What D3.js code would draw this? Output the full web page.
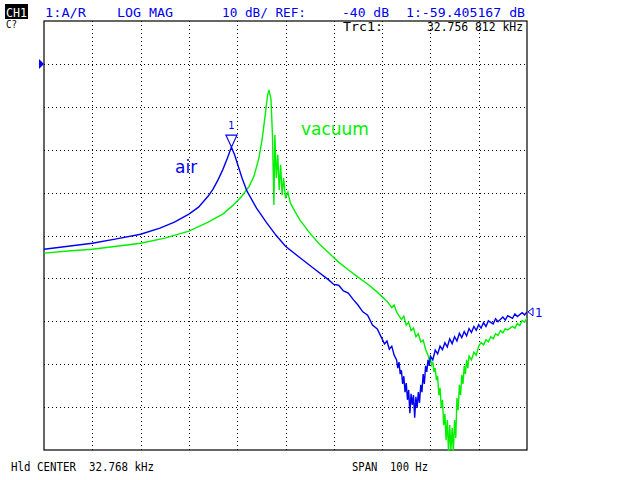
<!DOCTYPE html>
<html>
<head>
<meta charset="utf-8">
<script src="https://cdn.jsdelivr.net/npm/d3@7"></script>
<style>
body{margin:0;background:#fff;}
svg{display:block;}
.mono{font-family:"DejaVu Sans Mono",monospace;white-space:pre;}
.grid line{stroke:#000;stroke-dasharray:1,3;shape-rendering:crispEdges;}
</style>
</head>
<body>
<svg id="chart" width="640" height="480"></svg>
<script>
// sweep: center 32.768 kHz, span 100 Hz ; 10 dB/div, ref -40 dB
var freqRange = [32718, 32818];
var dbRange = [-130, -30];
var freqTicks = [32728, 32738, 32748, 32758, 32768, 32778, 32788, 32798, 32808];
var dbTicks = [-120, -110, -100, -90, -80, -70, -60, -50, -40];
var refLevel = -40;
var marker1 = [32756.812, -59.405167];

// air trace (blue)
var airHz = [32718,32723,32728,32733,32738,32742,32745,32748,32750,32752,32753,32754,32755,32756,32756.8,32757.5,32758,32759,32760,32762,32764,32766,32768,32771,32774,32777,32778,32779,32780,32781,32782,32783,32784,32785,32786,32787,32788,
  32788.5,32789,32789.5,32790,32790.5,
  32791,32791.25,32791.5,32791.75,32792,32792.25,32792.5,32792.75,32793,32793.25,32793.5,32793.75,32794,32794.25,32794.5,32794.75,32795,32795.25,32795.5,32795.75,32796,32796.25,32796.5,32796.75,32797,32797.25,32797.5,32797.75,32798,
  32798.5,32799,32799.5,32800,
  32800.5,32801,32801.5,32802,32802.5,32803,32803.5,32804,32804.5,32805,32805.5,32806,32806.5,32807,32807.5,32808,32808.5,32809,32809.5,32810,32811,32811.5,32812,32813,32813.5,32814,32815,32815.5,32816,32817,32817.5,32818];
var airDb = [-83.2,-82.5,-81.8,-80.8,-79.7,-78.3,-76.9,-75.0,-73.4,-70.8,-69.2,-67.1,-64.7,-61.9,-59.4,-61.3,-63.1,-66.6,-69.6,-73.6,-76.9,-79.9,-82.5,-85.2,-87.8,-90.4,-91.4,-91.6,-92.9,-93.4,-94.9,-96.2,-97.8,-98.6,-100.9,-101.8,-104.1,
  -105.3,-104.6,-106.5,-105.8,-107.9,
  -109.0,-110.9,-109.5,-112.3,-111.4,-114.6,-112.8,-116.5,-114.4,-118.3,-116.0,-121.4,-116.9,-119.5,-117.2,-122.5,-117.6,-120.2,-116.5,-119.0,-114.8,-116.5,-112.3,-114.6,-110.4,-111.8,-109.0,-110.4,-108.1,
  -109.0,-106.7,-107.6,-105.8,
  -106.6,-105.0,-106.0,-104.1,-105.2,-103.6,-104.6,-102.8,-103.8,-102.4,-103.4,-101.7,-102.6,-101.2,-102.1,-100.8,-101.6,-100.3,-101.2,-99.9,-100.6,-99.4,-100.1,-99.0,-99.7,-98.7,-99.3,-98.3,-98.9,-98.0,-98.5,-97.8];

// vacuum trace (green)
var vacHz = [32718,32723,32728,32733,32738,32743,32748,32752,32755,32757,32759,32760.5,32761.5,32762.5,32763.2,32763.8,32764.3,32764.6,32765,32765.3,
  32765.6,32765.8,32766.1,32766.4,32766.7,32767,32767.3,32767.6,32768,32768.5,32769,32770,32771,32773,32775,32777,32779,32781,32783,32785,32787,32789,
  32790,32790.5,32791,32792,32792.5,32793,32793.5,32794,32794.5,32795,32795.5,32796,32796.5,32797,
  32797.5,32797.75,32798,32798.25,32798.5,32798.75,32799,32799.25,32799.5,32799.75,32800,32800.25,32800.5,32800.75,32801,32801.25,32801.5,32801.75,
  32802,32802.25,32802.5,32802.75,32803,32803.25,32803.5,32803.75,32804,32804.25,32804.5,32804.75,32805,32805.25,32805.5,32805.75,32806,
  32806.5,32807,32807.5,32808,32808.5,32809,32809.5,32810,32810.5,32811,32811.5,32812,32812.5,32813,32813.5,32814,32815,32815.5,32816,32816.5,32817,32817.5,32818];
var vacDb = [-84.1,-83.6,-83.2,-82.5,-81.8,-80.6,-79.0,-76.9,-75.0,-73.1,-70.8,-68.5,-66.1,-61.9,-57.3,-51.9,-47.2,-46.1,-48.3,-56.6,
  -72.9,-56.6,-66.6,-61.2,-69.4,-63.5,-70.6,-66.6,-71.3,-69.9,-72.4,-74.5,-76.4,-79.4,-82.0,-84.1,-86.2,-88.0,-89.7,-91.3,-93.2,-95.3,
  -96.8,-96.2,-97.8,-99.6,-98.8,-100.9,-100.2,-102.2,-101.6,-103.6,-102.9,-104.8,-104.4,-106.5,
  -107.9,-109.0,-108.6,-110.2,-109.5,-111.8,-110.9,-113.7,-112.8,-117.2,-115.5,-120.2,-118.3,-124.2,-121.6,-127.7,-123.0,-130.5,
  -124.2,-130.0,-124.9,-130.5,-123.0,-127.2,-117.9,-120.7,-114.8,-117.2,-112.5,-114.6,-110.4,-112.3,-109.0,-110.9,-108.1,
  -109.0,-107.2,-107.9,-105.8,-104.9,-105.5,-104.3,-104.8,-103.6,-104.1,-102.9,-103.3,-102.2,-102.7,-101.7,-102.0,-101.2,-101.6,-100.5,-101.0,-99.8,-100.2,-99.2];

var blue = "#0000f0", green = "#00f000";
var m = {top: 21, left: 44, right: 527, bottom: 450};

var svg = d3.select("#chart");
var x = d3.scaleLinear().domain(freqRange).range([m.left, m.right]);
var y = d3.scaleLinear().domain(dbRange).range([m.bottom, m.top]);
var h = m.bottom - m.top, w = m.right - m.left;

// dotted grid
svg.append("g").attr("class","grid")
  .attr("transform","translate(0," + m.bottom + ")")
  .call(d3.axisBottom(x).tickValues(freqTicks).tickSize(-h).tickFormat(""))
  .call(g => g.select(".domain").remove());
svg.append("g").attr("class","grid")
  .attr("transform","translate(" + m.left + ",0)")
  .call(d3.axisLeft(y).tickValues(dbTicks).tickSize(-w).tickFormat(""))
  .call(g => g.select(".domain").remove());

svg.append("rect").attr("x", m.left).attr("y", m.top).attr("width", w).attr("height", h)
  .attr("fill","none").attr("stroke","#000").attr("stroke-width",1.2);

svg.append("clipPath").attr("id","plot").append("rect")
  .attr("x", m.left).attr("y", m.top).attr("width", w).attr("height", h + 1);

var line = d3.line().x(d => x(d[0])).y(d => y(d[1]));

svg.append("path").datum(d3.zip(vacHz, vacDb))
  .attr("d", line).attr("fill","none").attr("stroke", green).attr("stroke-width",1.4)
  .attr("clip-path","url(#plot)");
svg.append("path").datum(d3.zip(airHz, airDb))
  .attr("d", line).attr("fill","none").attr("stroke", blue).attr("stroke-width",1.4)
  .attr("clip-path","url(#plot)");

// reference level marker
var ry = y(refLevel);
svg.append("path").attr("d","M" + (m.left-5) + "," + (ry-5) + "L" + (m.left) + "," + ry + "L" + (m.left-5) + "," + (ry+5) + "Z")
  .attr("fill", blue);

// marker 1 on the air trace
var mx = x(marker1[0]), my = y(marker1[1]);
svg.append("path").attr("d","M" + (mx-5.5) + "," + (my-12) + "L" + (mx+5.5) + "," + (my-12) + "L" + mx + "," + my + "Z")
  .attr("fill","none").attr("stroke", blue).attr("stroke-width",1.2);
svg.append("text").attr("x", mx).attr("y", my-18).attr("text-anchor","middle")
  .attr("font-family","DejaVu Sans").attr("font-size",10).attr("fill", blue).text("1");

// trace end marker
var ey = y(airDb[airDb.length-1]);
svg.append("path").attr("d","M" + (m.right+1) + "," + ey + "L" + (m.right+6) + "," + (ey-4) + "L" + (m.right+6) + "," + (ey+4) + "Z")
  .attr("fill","none").attr("stroke", blue).attr("stroke-width",1);
svg.append("text").attr("x", m.right+8).attr("y", ey+5)
  .attr("font-family","DejaVu Sans").attr("font-size",12).attr("fill", blue).text("1");

// trace labels
svg.append("text").attr("x",175).attr("y",173).attr("font-family","DejaVu Sans").attr("font-size",17)
  .attr("fill", blue).text("air");
svg.append("text").attr("x",301).attr("y",135).attr("font-family","DejaVu Sans").attr("font-size",17)
  .attr("fill", green).text("vacuum");

// instrument annotations
function label(t, x0, yb, len, size, col){
  svg.append("text").attr("class","mono").attr("x", x0).attr("y", yb)
    .attr("font-size", size).attr("fill", col)
    .attr("textLength", len).attr("lengthAdjust","spacingAndGlyphs").text(t);
}
svg.append("rect").attr("x",5).attr("y",4).attr("width",23).attr("height",15).attr("fill","#000");
label("CH1", 6, 17, 21, 13, "#fff");
label("C?", 6, 28, 11, 10, "#000");
label("1:A/R", 45, 17, 41, 13, blue);
label("LOG MAG", 117, 17, 56, 13, blue);
label("10 dB/ REF:", 222, 17, 84, 13, blue);
label("-40 dB", 342, 17, 47, 13, blue);
label("1:-59.405167 dB", 406, 17, 119, 13, blue);
label("Trc1:", 343, 31, 40, 12, "#000");
label("32.756 812 kHz", 427, 31, 96, 12, "#000");
label("Hld CENTER  32.768 kHz", 11, 471, 143, 11.5, "#000");
label("SPAN  100 Hz", 352, 471, 76, 11.5, "#000");
</script>
</body>
</html>
